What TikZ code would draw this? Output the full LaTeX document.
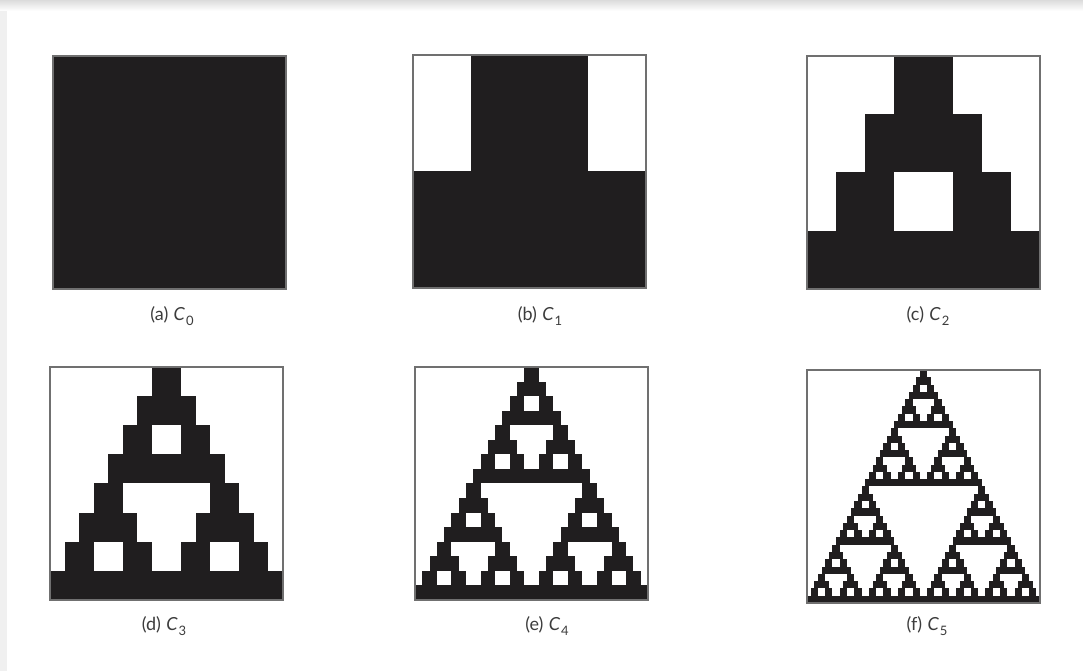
\documentclass[tikz,border=0pt]{standalone}
\usepackage{fontspec}
\setmainfont{Lato}
\definecolor{ink}{RGB}{32,30,31}
\definecolor{edge}{RGB}{112,112,112}
\definecolor{txt}{RGB}{60,60,60}
\def\sierp#1{\ifnum\numexpr#1\relax=0 \expandafter\sierpbase\else\expandafter\sierprec\fi{#1}}
\def\sierpbase#1{\fill[ink] (0,0) rectangle (1,1);}
\def\sierprec#1{%
 \begin{scope}[shift={(0.25,0.5)},scale=0.5]\sierp{#1-1}\end{scope}%
 \begin{scope}[scale=0.5]\sierp{#1-1}\end{scope}%
 \begin{scope}[shift={(0.5,0)},scale=0.5]\sierp{#1-1}\end{scope}}
\newcommand\panel[4]{%
 \begin{scope}[shift={(#1,#2)},x=233pt,y=233pt]\sierp{#3}\end{scope}%
 \node[frame] (#4) at (#1+116.5,#2+116.5) {};}
\newcommand\subcap[2]{(#1)\hspace{0.3em}\textit{C}\kern0.05em\raisebox{-0.3em}{\fontsize{13}{15}\selectfont #2}}
\tikzset{
 frame/.style={draw=edge,line width=1.1pt,minimum size=233pt,inner sep=0pt},
 lab/.style={text=txt,font=\fontsize{18}{21}\selectfont,inner sep=0pt}
}
\begin{document}
\begin{tikzpicture}[x=1pt,y=1pt]
\useasboundingbox (0,0) rectangle (1083,671);
\fill[white] (0,0) rectangle (1083,671);
\fill[gray!12] (0,0) rectangle (7,671);
\shade[top color=gray!28,bottom color=white] (0,660) rectangle (1083,671);
\panel{53}{382}{0}{pa}
\panel{413}{383}{1}{pb}
\panel{807}{382}{2}{pc}
\panel{50}{71}{3}{pd}
\panel{415}{71}{4}{pe}
\panel{807}{68}{5}{pf}
\node[lab] (la) at (172,355) {\subcap{a}{0}};
\node[lab] (lb) at (540,355) {\subcap{b}{1}};
\node[lab] (lc) at (928,355) {\subcap{c}{2}};
\node[lab] (ld) at (164,45) {\subcap{d}{3}};
\node[lab] (le) at (547,45) {\subcap{e}{4}};
\node[lab] (lf) at (927,45) {\subcap{f}{5}};
\end{tikzpicture}
\end{document}
